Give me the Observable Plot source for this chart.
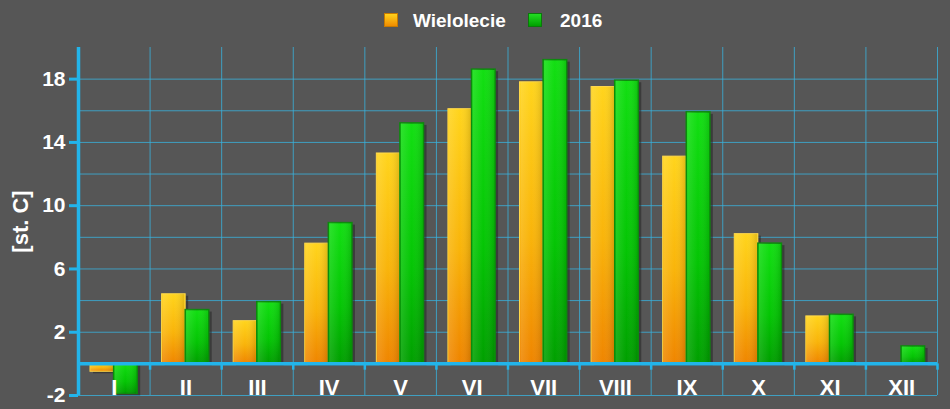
<!DOCTYPE html>
<html><head><meta charset="utf-8">
<script src="https://cdn.jsdelivr.net/npm/d3@7"></script>
<script src="https://cdn.jsdelivr.net/npm/@observablehq/plot@0.6"></script>
<style>
html,body{margin:0;padding:0;background:#565656;}
body{width:950px;height:409px;overflow:hidden;font-family:"Liberation Sans",Arial,sans-serif;}
#legend{height:38px;position:relative;color:#fff;font-weight:bold;font-size:19px;line-height:19px;}
.sw{position:absolute;top:13px;width:14px;height:14px;box-sizing:border-box;}
.sw.o{left:384px;background:linear-gradient(#ffd21c,#f08c00);border:1px solid #c77a00;}
.sw.g{left:528px;background:linear-gradient(#22dd22,#00a000);border:1px solid #0a7a0a;}
.lt{position:absolute;top:11px;white-space:nowrap;}
#chart svg{display:block;}
</style></head>
<body>
<div id="legend">
  <div class="sw o"></div><div class="lt" id="l1" style="left:413px"></div>
  <div class="sw g"></div><div class="lt" id="l2" style="left:560px"></div>
</div>
<div id="chart"></div>
<script>
const months = ["I","II","III","IV","V","VI","VII","VIII","IX","X","XI","XII"];
const seriesNames = ["Wielolecie","2016"];
const wielolecie = [-0.5, 4.4, 2.7, 7.6, 13.3, 16.1, 17.8, 17.5, 13.1, 8.2, 3.0, 0.0];
const y2016 = [-1.9, 3.4, 3.9, 8.9, 15.2, 18.6, 19.2, 17.9, 15.9, 7.6, 3.1, 1.1];
const yTicks = [-2, 2, 6, 10, 14, 18];
const yGrid = [-2, 0, 2, 4, 6, 8, 10, 12, 14, 16, 18];
const yTitle = "[st. C]";

document.getElementById("l1").textContent = seriesNames[0];
document.getElementById("l2").textContent = seriesNames[1];

const rows = months.map((m, i) => ({m, i, w: wielolecie[i], g: y2016[i]}));
const bounds = months.map((_, i) => i).concat([months.length]);

const blue = "#22b4ea";
const grid = "#3ab2dc";

const chart = Plot.plot({
  width: 950, height: 371,
  marginLeft: 78, marginRight: 13, marginTop: 9, marginBottom: 14,
  x: {domain: [0, months.length], axis: null},
  y: {domain: [-2, 20], axis: null},
  style: {background: "transparent", color: "#fff", fontFamily: "'Liberation Sans', Arial, sans-serif", overflow: "visible"},
  marks: [
    Plot.ruleY(yGrid, {stroke: grid, strokeWidth: 1, strokeOpacity: 0.8}),
    Plot.ruleX(bounds, {stroke: grid, strokeWidth: 1, strokeOpacity: 0.8}),
    // shadows
    Plot.rectY(rows, {x1: "i", x2: d => d.i + 1, y1: 0, y2: "w", insetLeft: 12, insetRight: 36, dx: 3, dy: 2, fill: "#262626", fillOpacity: 0.55}),
    Plot.rectY(rows, {x1: "i", x2: d => d.i + 1, y1: 0, y2: "g", insetLeft: 35.6, insetRight: 12.4, dx: 3, dy: 2, fill: "#262626", fillOpacity: 0.55}),
    // bars
    Plot.rectY(rows, {x1: "i", x2: d => d.i + 1, y1: 0, y2: "w", insetLeft: 12, insetRight: 36, fill: "url(#gO)", stroke: "#ffd84a", strokeWidth: 1}),
    Plot.rectY(rows, {x1: "i", x2: d => d.i + 1, y1: 0, y2: "g", insetLeft: 35.6, insetRight: 12.4, fill: "url(#gG)", stroke: "#0c8a0c", strokeWidth: 1.5}),
    Plot.rectY(rows, {x1: "i", x2: d => d.i + 1, y1: 0, y2: "w", insetLeft: 13, insetRight: 37, fill: "url(#gH)"}),
    Plot.rectY(rows, {x1: "i", x2: d => d.i + 1, y1: 0, y2: "g", insetLeft: 36.6, insetRight: 13.4, fill: "url(#gH)"}),
    // axes lines
    Plot.ruleX(bounds, {y1: 0, y2: -0.4, stroke: blue, strokeWidth: 2.5}),
    Plot.ruleY([0], {stroke: blue, strokeWidth: 3.5}),
    Plot.ruleX([0], {stroke: blue, strokeWidth: 3.5}),
    Plot.axisY(yTicks, {tickSize: 9, tickPadding: 4, stroke: blue, strokeWidth: 3, fill: "#fff", fontSize: 21, fontWeight: "bold", label: null, tickFormat: d => String(d)}),
    Plot.text(rows, {x: d => d.i + 0.5, text: "m", frameAnchor: "bottom", lineAnchor: "bottom", dy: -1, fill: "#fff", fontSize: 22, fontWeight: "bold"}),
    Plot.text([yTitle], {frameAnchor: "left", textAnchor: "middle", dx: -58, rotate: -90, fill: "#fff", fontSize: 22, fontWeight: "bold"})
  ]
});

const svg = chart.tagName.toLowerCase() === "svg" ? chart : chart.querySelector("svg");
const defs = document.createElementNS("http://www.w3.org/2000/svg", "defs");
defs.innerHTML = `
<linearGradient id="gO" x1="0" y1="0" x2="0" y2="1">
  <stop offset="0" stop-color="#ffd41c"/><stop offset="0.55" stop-color="#f9b40a"/><stop offset="1" stop-color="#ef8500"/>
</linearGradient>
<linearGradient id="gG" x1="0" y1="0" x2="0" y2="1">
  <stop offset="0" stop-color="#12df12"/><stop offset="0.6" stop-color="#04c504"/><stop offset="1" stop-color="#009f00"/>
</linearGradient>
<linearGradient id="gH" x1="0" y1="0" x2="1" y2="0">
  <stop offset="0" stop-color="#ffffff" stop-opacity="0.12"/><stop offset="0.5" stop-color="#ffffff" stop-opacity="0"/><stop offset="1" stop-color="#000000" stop-opacity="0.12"/>
</linearGradient>`;
svg.insertBefore(defs, svg.firstChild);
document.getElementById("chart").appendChild(chart);
</script>
</body></html>
